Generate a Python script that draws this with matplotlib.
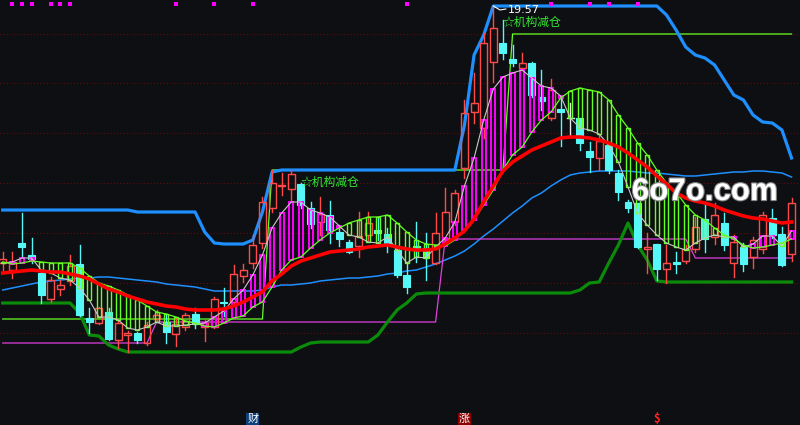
import matplotlib
matplotlib.use("Agg")
import matplotlib.pyplot as plt
import matplotlib.patheffects as pe
from matplotlib.patches import Rectangle

# ---------------- data (price levels, chart units) ----------------
opens = [162,155,182,170,152,126,136,144,161,107,102,113,85,90,92,82,106,103,91,98,
         111,98,98,123,123,149,162,182,217,239,236,241,217,203,210,193,183,179,190,195,
         191,175,150,179,177,162,186,203,257,313,297,363,382,366,357,362,328,307,316,307,
         307,274,267,280,252,223,222,176,181,156,163,164,176,206,188,202,162,178,168,176,
         207,191,171]
closes = [166,163,178,166,130,145,140,159,110,103,117,86,102,92,85,100,110,93,101,110,
          101,102,126,122,151,155,180,223,242,240,251,220,201,211,195,186,173,189,202,192,
          182,150,138,177,167,192,213,232,312,322,382,397,372,362,362,330,324,335,313,307,
          282,268,284,255,233,217,178,178,156,162,161,176,198,186,210,180,183,161,185,210,
          190,160,222]
highs = [173,173,212,187,153,148,145,170,180,117,118,117,105,94,93,103,115,111,107,112,
         117,105,128,137,160,161,190,228,255,252,255,242,223,228,224,200,185,213,213,208,
         197,176,162,203,192,212,237,235,325,352,392,419,405,380,372,363,355,346,328,322,
         307,283,290,280,255,225,222,192,181,180,173,180,208,220,222,212,190,182,188,213,
         216,198,227]
lows = [155,147,168,162,122,123,130,140,109,92,101,85,77,73,82,80,103,82,79,95,
        97,84,97,109,121,143,157,177,213,230,225,217,197,190,182,179,172,168,185,185,
        173,148,132,163,145,161,183,200,247,302,287,343,366,359,355,328,315,305,279,290,
        275,253,255,252,225,213,177,152,145,142,152,162,173,173,181,175,148,154,157,172,
        187,159,164]

fast_line = [162,163,167,167,155,152,147,145,137,125,108,108,105,97,95,98,103,99,99,100,
             101,102,108,114,126,135,150,170,197,212,223,223,215,212,208,199,190,188,183,182,
             188,175,162,168,167,178,187,203,239,267,305,336,348,352,355,347,339,337,329,307,
             297,295,291,280,263,238,212,200,190,182,178,175,182,187,190,188,188,178,181,189,
             189,179,194]
slow_line = [163,161,162,164,163,162,162,162,157,149,142,139,135,130,125,119,113,111,108,104,
             102,99,98,102,107,109,118,123,138,155,165,168,177,185,192,197,202,205,208,208,
             210,202,193,185,181,180,179,185,195,205,220,235,255,270,278,293,305,313,327,334,
             337,335,333,325,310,297,282,270,255,242,233,220,210,205,197,190,186,180,177,178,
             180,182,186]
ma_red = [152,153,154,155,154,153,153,151,149,146,141,136,133,129,126,123,121,119,118,116,
          115,115,115,116,119,123,128,133,144,151,159,164,167,170,173,174,175,176,178,179,
          180,178,176,175,175,176,181,187,194,206,223,239,254,263,269,275,279,283,287,288,
          288,287,285,282,278,272,265,258,249,241,232,227,224,222,219,215,212,209,207,206,
          204,202,203]
ma_blue = [135,137,139,141,143,144,145,146,147,147,148,148,147,146,145,144,143,141,140,139,
           138,136,134,134,134,134,134,135,138,140,140,141,142,144,145,146,147,147,148,149,
           151,152,154,155,158,161,165,169,174,181,189,196,204,212,219,227,232,239,245,250,
           252,253,254,254,254,254,253,252,252,251,250,249,249,250,251,252,253,253,254,254,
           253,252,248]
upper_band = [215,215,215,215,215,215,215,215,215,215,215,215,215,215,213,213,213,213,213,213,
              213,193,182,181,181,181,185,213,253,255,255,255,255,255,255,255,255,255,255,255,
              255,255,255,255,255,255,255,255,300,370,390,419,419,419,419,419,419,419,419,419,
              419,419,419,419,419,419,419,419,419,410,395,378,370,367,360,345,330,325,310,303,
              302,295,267]
lower_band = [122,122,122,122,122,122,122,122,112,90,89,80,76,73,73,73,73,73,73,73,
              73,73,73,73,73,73,73,73,73,73,73,78,82,83,83,83,83,83,83,90,
              103,115,122,131,132,132,132,132,132,132,132,132,132,132,132,132,132,132,132,132,
              135,142,143,162,180,202,180,165,144,143,143,143,143,143,143,143,143,143,143,143,
              143,143,143]
step_lime = [106]*28 + [255]*25 + [391]*30
step_magenta = [82]*16 + [103]*30 + [186]*26 + [167]*11

grid_levels = [391, 342, 292, 242, 192, 142, 92]
top_signal_idx = [1, 2, 3, 5, 6, 7, 18, 22, 26, 42, 57, 61, 63, 66]
label_idx = [31, 52]
label_level = [243, 403]
label_text = "☆机构减仓"
peak_label = "19.57"
peak_idx = 51
mark_idx = [26, 48, 68]
mark_text = ["财", "涨", "$"]

# ---------------- style ----------------
BG = "#0e0f12"
UP = "#ff4a4a"
DOWN = "#55f7f7"
LIME = "#66ff22"
MAG = "#ff00ff"

fig = plt.figure(figsize=(8, 4.25), dpi=100)
fig.patch.set_facecolor(BG)
ax = fig.add_axes([0, 0, 1, 1])
ax.set_facecolor(BG)
ax.set_xlim(-0.281, 82.88)
ax.set_ylim(0, 425)
ax.axis("off")

n = len(opens)
xs = list(range(n))

for g in grid_levels:
    ax.axhline(g, color="#740c0c", lw=0.8, ls=(0, (0.8, 2.2)), zorder=1)

ax.plot(xs, ma_blue, color="#1e8fff", lw=1.1, zorder=2)
ax.plot(xs, step_lime, color=LIME, lw=0.9, zorder=2)
ax.plot(xs, step_magenta, color="#e040e0", lw=0.9, zorder=2)
ax.plot(xs, lower_band, color="#0a8c0a", lw=2.3, zorder=3)
ax.plot(xs, upper_band, color="#1e8fff", lw=2.3, zorder=3)

bw = 0.72
for i in xs:
    o, c, h, l = opens[i], closes[i], highs[i], lows[i]
    top, bot = max(o, c), min(o, c)
    if c > o:
        col = UP
        ax.add_patch(Rectangle((i - bw / 2, bot), bw, top - bot, fill=False,
                               edgecolor=col, lw=1.0, zorder=4))
        ax.plot([i, i], [top, h], color=col, lw=1.0, zorder=4)
        ax.plot([i, i], [l, bot], color=col, lw=1.0, zorder=4)
    elif c < o:
        col = DOWN
        ax.add_patch(Rectangle((i - bw / 2, bot), bw, top - bot, facecolor=col,
                               edgecolor=col, lw=0.8, zorder=4))
        ax.plot([i, i], [l, h], color=col, lw=1.0, zorder=4)
    else:
        col = "#e8e8e8"
        ax.plot([i - bw / 2, i + bw / 2], [o, o], color=col, lw=1.0, zorder=4)
        ax.plot([i, i], [l, h], color=col, lw=1.0, zorder=4)

# bars between the fast and slow lines
bbw = 0.42
for i in xs:
    f, s = fast_line[i], slow_line[i]
    col = LIME if s > f else MAG
    lw = 1.0 if s > f else 1.4
    ax.add_patch(Rectangle((i - bbw / 2, min(f, s)), bbw, abs(f - s), fill=False,
                           edgecolor=col, lw=lw, zorder=5))

ax.plot(xs, fast_line, color="#c8c8c8", lw=0.8, zorder=6)
ax.plot(xs, slow_line, color=LIME, lw=0.9, zorder=6)
ax.plot(xs, ma_red, color="#ff0000", lw=2.6, zorder=7)

ax.scatter(top_signal_idx, [421.5] * len(top_signal_idx), marker="s", s=7,
           color=MAG, lw=0, zorder=8)

for k, lv in zip(label_idx, label_level):
    ax.text(k, lv, label_text, color="#33e633", fontsize=8.5, ha="left", va="center",
            family=["Noto Sans CJK SC", "DejaVu Sans"], zorder=9)

ax.plot([peak_idx, peak_idx + 0.7, peak_idx + 1.3],
        [highs[peak_idx], highs[peak_idx] - 4, highs[peak_idx] - 3],
        color="white", lw=0.8, zorder=9)
ax.text(peak_idx + 1.5, highs[peak_idx] - 4, peak_label, color="white", fontsize=8,
        ha="left", va="center", family="DejaVu Sans", zorder=9)

ax.text(65.4, 233, "6o7o.com", color="white", fontsize=22.5, fontweight="bold",
        ha="left", va="center", family="Liberation Sans", zorder=10,
        path_effects=[pe.withStroke(linewidth=1.6, foreground="#8a8a8a")])

styles = [("#ffffff", "#0d3f7a"), ("#ffffff", "#8a0000"), ("#ff2020", None)]
for k, t, (fc, bc) in zip(mark_idx, mark_text, styles):
    kw = dict(color=fc, fontsize=8, ha="center", va="center",
              family=["Noto Sans CJK SC", "DejaVu Sans"], zorder=10)
    if bc:
        kw["bbox"] = dict(boxstyle="square,pad=0.08", fc=bc, ec="none")
    else:
        kw["fontweight"] = "bold"
    ax.text(k, 6, t, **kw)

fig.savefig("out.png", dpi=100, facecolor=BG)
